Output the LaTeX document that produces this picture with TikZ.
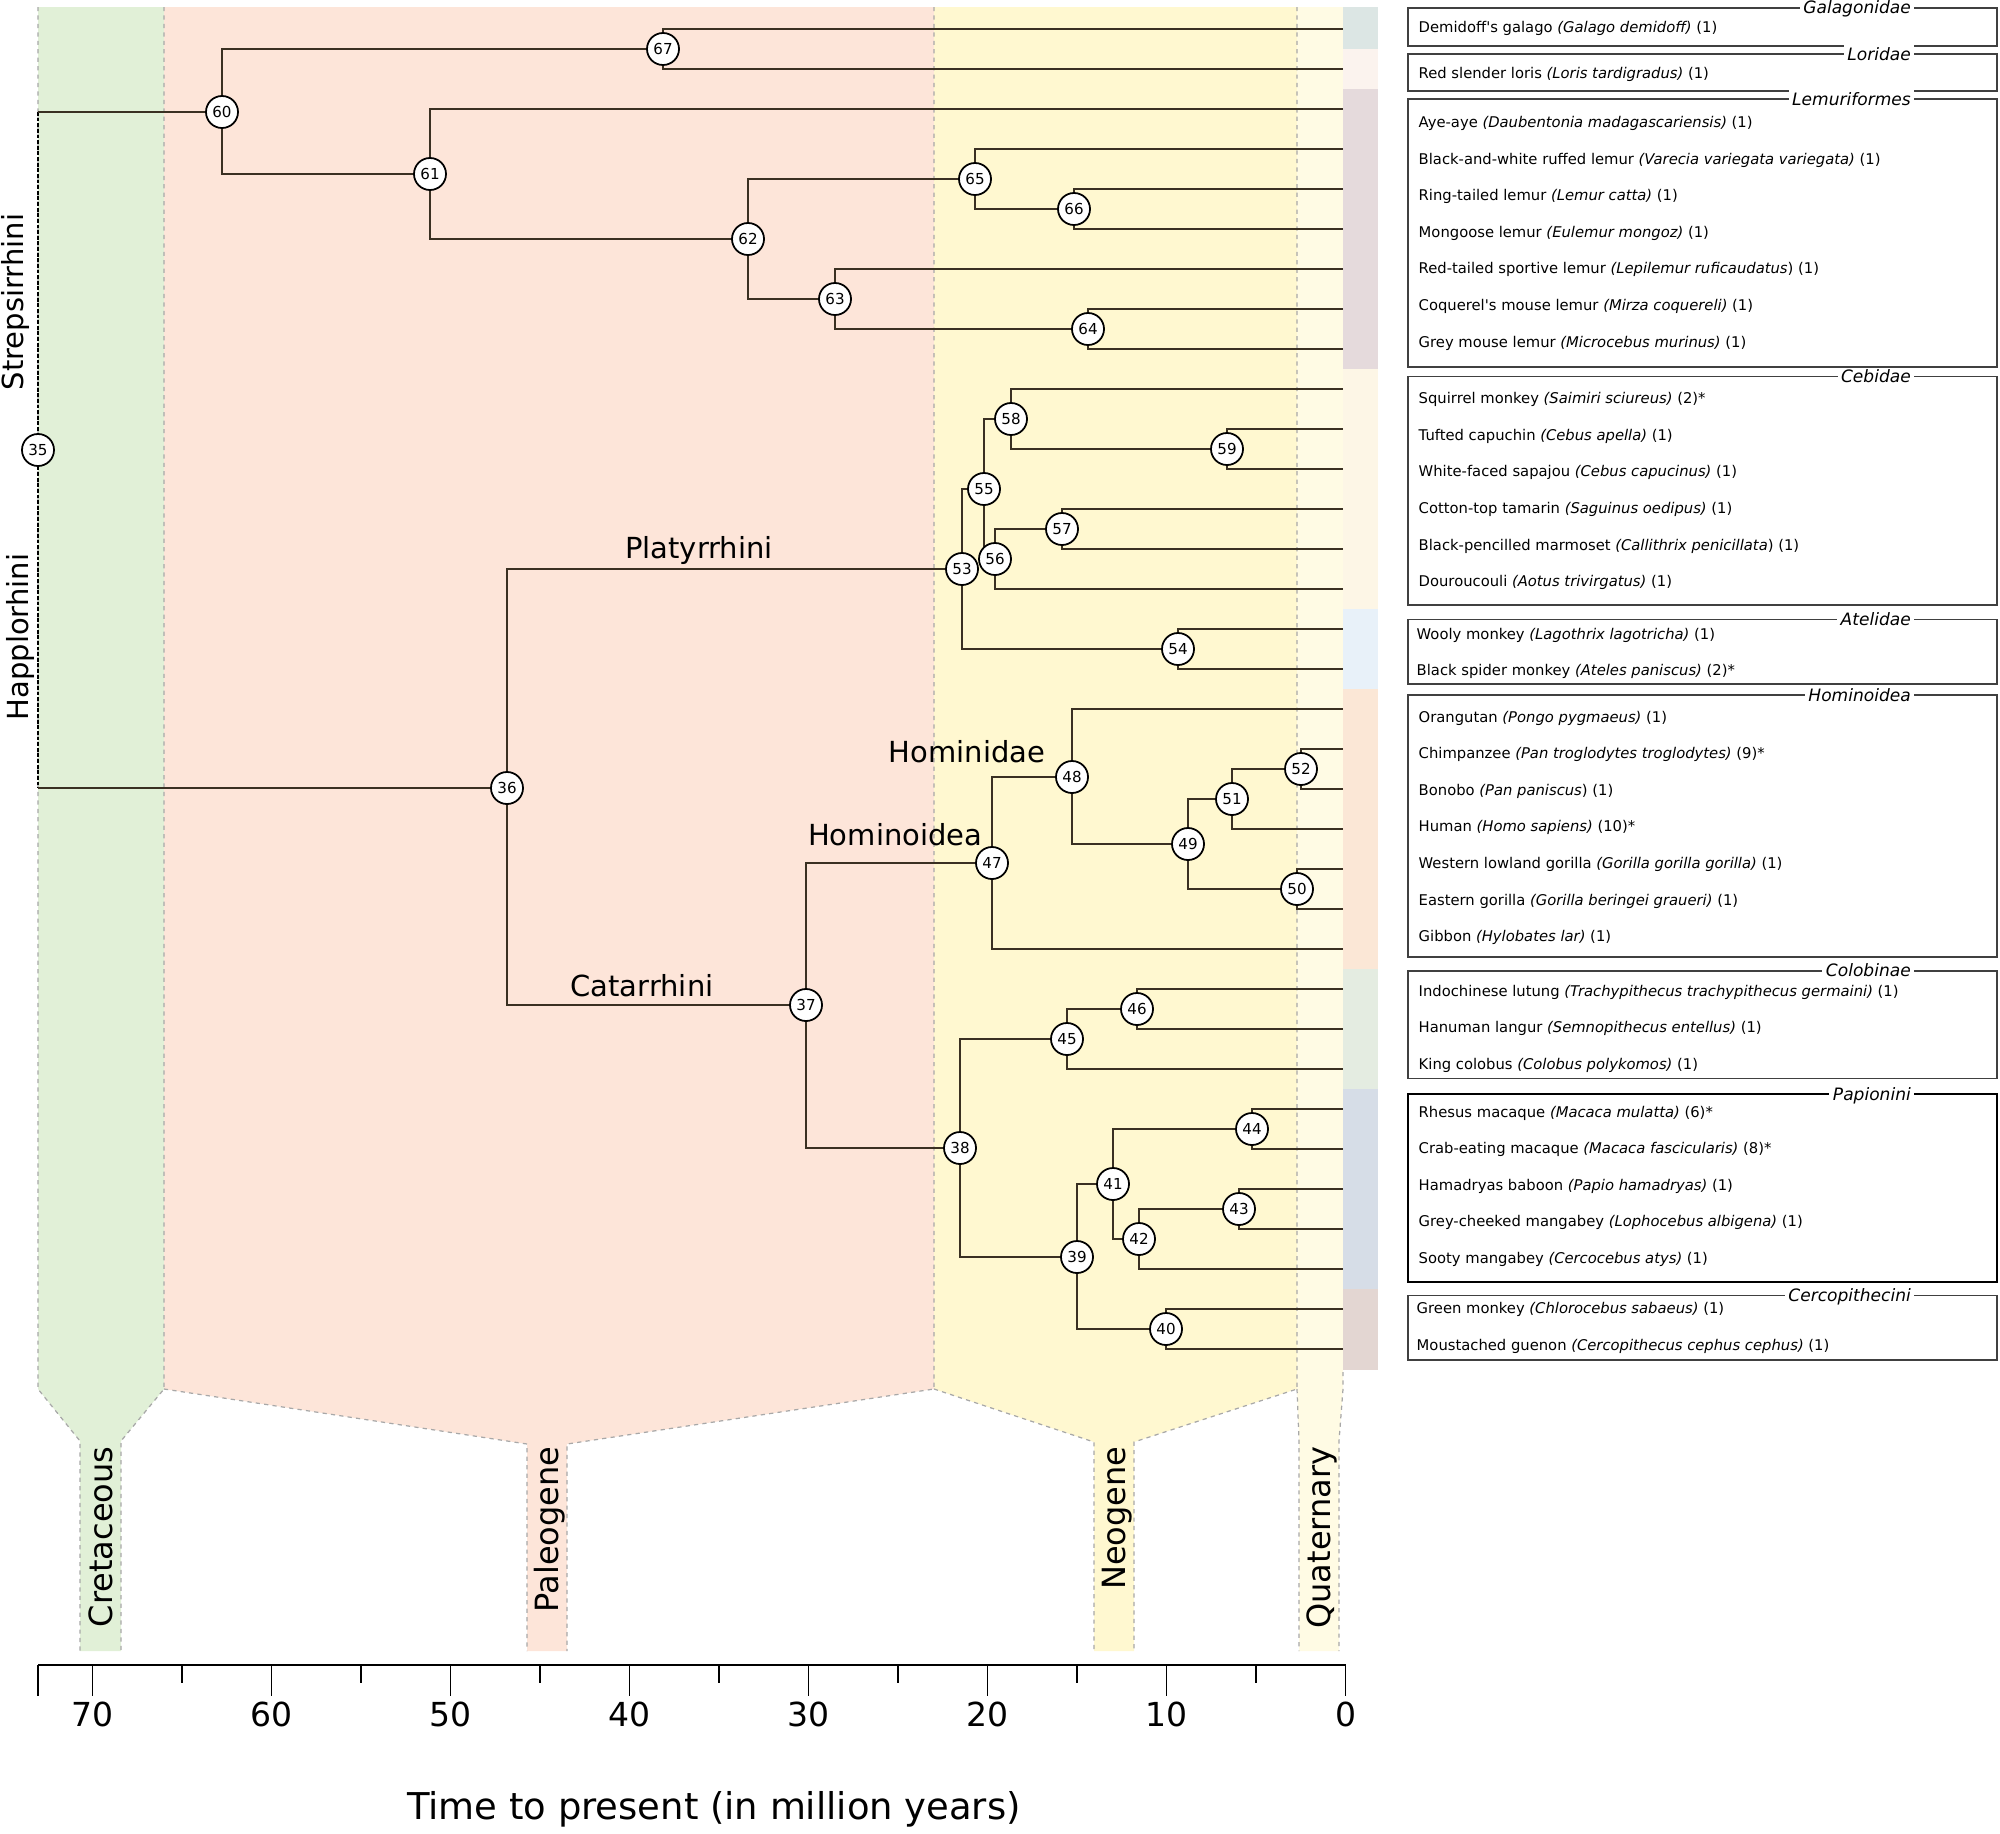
\documentclass[tikz,border=0pt]{standalone}
\usepackage{fontspec}
\setmainfont{DejaVu Sans}
\usetikzlibrary{calc}
\definecolor{cret}{HTML}{E1F0D7}
\definecolor{paleo}{HTML}{FDE5D9}
\definecolor{neo}{HTML}{FFF8D0}
\definecolor{quat}{HTML}{FFFBE4}
\definecolor{branchc}{HTML}{3A3022}
\definecolor{edgegray}{HTML}{A8A8A8}
\definecolor{sgal}{HTML}{DCE6E4}
\definecolor{slor}{HTML}{FBF3EE}
\definecolor{slem}{HTML}{E5DADC}
\definecolor{sceb}{HTML}{FDF6E6}
\definecolor{sate}{HTML}{E8F1F9}
\definecolor{shom}{HTML}{FBE7D6}
\definecolor{scol}{HTML}{E4ECE1}
\definecolor{spap}{HTML}{D6DDE7}
\definecolor{scer}{HTML}{E3D6D2}
\pgfdeclarelayer{bg}
\pgfdeclarelayer{edges}
\pgfsetlayers{bg,edges,main}
\newcommand{\spn}[1]{\textit{#1}}
\newcommand{\legrow}[3]{\node[legrow] (#1) at (1418,#2+5.4) {#3};}
\newcommand{\legframe}[4]{\draw[legbox] (1408,#2) rectangle (1997,#3);
  \node[legtitle] (#1) at (1915,#2+6) {#4};}
\begin{document}
\begin{tikzpicture}[x=0.01cm,y=-0.01cm,
  nd/.style={circle, draw=black, line width=0.5pt, fill=white, minimum size=0.32cm, inner sep=0pt, font=\fontsize{4.3}{5}\selectfont},
  branch/.style={draw=branchc, line width=0.6pt},
  rootdash/.style={draw=black, line width=0.45pt, dash pattern=on 1.1pt off 0.5pt},
  bandedge/.style={draw=edgegray, line width=0.35pt, dash pattern=on 1.2pt off 1.2pt},
  legbox/.style={draw=black!75, line width=0.45pt, fill=white},
  legtitle/.style={fill=white, inner xsep=1pt, inner ysep=0.5pt, anchor=base east, font=\itshape\fontsize{4.85}{6}\selectfont},
  legrow/.style={anchor=base west, inner sep=0pt, font=\fontsize{4.2}{5}\selectfont},
  cladelab/.style={font=\fontsize{8.25}{10}\selectfont, inner sep=0pt},
  periodlab/.style={font=\fontsize{9.1}{11}\selectfont, rotate=90, anchor=base east, inner sep=0pt},
  ticklab/.style={font=\fontsize{9.4}{11}\selectfont, inner sep=0pt},
  axisline/.style={draw=black, line width=0.6pt},
  tickline/.style={draw=black, line width=0.45pt}
]
\useasboundingbox (0,0) rectangle (2000,1833);

% ---------- background bands ----------
\begin{pgfonlayer}{bg}
\fill[cret] (38,7) -- (164,7) -- (164,1389) -- (121,1441) -- (121,1651) -- (80,1651) -- (80,1441) -- (38,1389) -- cycle;
\fill[paleo] (164,7) -- (934,7) -- (934,1389) -- (567,1444) -- (567,1651) -- (527,1651) -- (527,1444) -- (164,1389) -- cycle;
\fill[neo] (934,7) -- (1297,7) -- (1297,1389) -- (1134,1442) -- (1134,1651) -- (1094,1651) -- (1094,1442) -- (934,1389) -- cycle;
\fill[quat] (1297,7) -- (1343,7) -- (1343,1389) -- (1339,1441) -- (1339,1651) -- (1299,1651) -- (1299,1441) -- (1297,1389) -- cycle;
\draw[bandedge] (38,7) -- (38,1389) -- (80,1441) -- (80,1651);
\draw[bandedge] (164,7) -- (164,1389) -- (121,1441) -- (121,1651);
\draw[bandedge] (164,1389) -- (527,1444) -- (527,1651);
\draw[bandedge] (934,7) -- (934,1389) -- (567,1444) -- (567,1651);
\draw[bandedge] (934,1389) -- (1094,1442) -- (1094,1651);
\draw[bandedge] (1297,7) -- (1297,1389) -- (1134,1442) -- (1134,1651);
\draw[bandedge] (1297,1389) -- (1299,1441) -- (1299,1651);
\draw[bandedge] (1343,1372) -- (1343,1389) -- (1339,1441) -- (1339,1651);
% clade strips
\fill[sgal] (1343,7) rectangle (1378,49);
\fill[slor] (1343,49) rectangle (1378,89);
\fill[slem] (1343,89) rectangle (1378,369);
\fill[sceb] (1343,369) rectangle (1378,609);
\fill[sate] (1343,609) rectangle (1378,689);
\fill[shom] (1343,689) rectangle (1378,969);
\fill[scol] (1343,969) rectangle (1378,1089);
\fill[spap] (1343,1089) rectangle (1378,1289);
\fill[scer] (1343,1289) rectangle (1378,1370);
\end{pgfonlayer}

% ---------- tip coordinates ----------
\foreach \i in {0,...,33} {\coordinate (t\i) at (1343,29+40*\i);}
\coordinate (r60) at (38,112);
\coordinate (r36) at (38,788);

% ---------- nodes ----------
\node[nd] (n35) at (38,450) {35};
\node[nd] (n60) at (222,112) {60};
\node[nd] (n67) at (663,49) {67};
\node[nd] (n61) at (430,174) {61};
\node[nd] (n62) at (748,239) {62};
\node[nd] (n65) at (975,179) {65};
\node[nd] (n66) at (1074,209) {66};
\node[nd] (n63) at (835,299) {63};
\node[nd] (n64) at (1088,329) {64};
\node[nd] (n36) at (507,788) {36};
\node[nd] (n53) at (962,569) {53};
\node[nd] (n55) at (984,489) {55};
\node[nd] (n58) at (1011,419) {58};
\node[nd] (n59) at (1227,449) {59};
\node[nd] (n56) at (995,559) {56};
\node[nd] (n57) at (1062,529) {57};
\node[nd] (n54) at (1178,649) {54};
\node[nd] (n37) at (806,1005) {37};
\node[nd] (n47) at (992,863) {47};
\node[nd] (n48) at (1072,777) {48};
\node[nd] (n49) at (1188,844) {49};
\node[nd] (n51) at (1232,799) {51};
\node[nd] (n52) at (1301,769) {52};
\node[nd] (n50) at (1297,889) {50};
\node[nd] (n38) at (960,1148) {38};
\node[nd] (n45) at (1067,1039) {45};
\node[nd] (n46) at (1137,1009) {46};
\node[nd] (n39) at (1077,1257) {39};
\node[nd] (n41) at (1113,1184) {41};
\node[nd] (n44) at (1252,1129) {44};
\node[nd] (n42) at (1139,1239) {42};
\node[nd] (n43) at (1239,1209) {43};
\node[nd] (n40) at (1166,1329) {40};

% ---------- edges ----------
\begin{pgfonlayer}{edges}
\draw[rootdash] (r60) -- (n35.center) -- (r36);
\draw[branch] (r60) -- (n60.center);
\draw[branch] (r36) -- (n36.center);
\foreach \p/\c in {n60/n67,n60/n61,n67/t0,n67/t1,n61/t2,n61/n62,n62/n65,n62/n63,
  n65/t3,n65/n66,n66/t4,n66/t5,n63/t6,n63/n64,n64/t7,n64/t8,
  n36/n53,n36/n37,n53/n55,n53/n54,n55/n58,n55/n56,n58/t9,n58/n59,n59/t10,n59/t11,
  n56/n57,n56/t14,n57/t12,n57/t13,n54/t15,n54/t16,
  n37/n47,n37/n38,n47/n48,n47/t23,n48/t17,n48/n49,n49/n51,n49/n50,n51/n52,n51/t20,
  n52/t18,n52/t19,n50/t21,n50/t22,
  n38/n45,n38/n39,n45/n46,n45/t26,n46/t24,n46/t25,n39/n41,n39/n40,n41/n44,n41/n42,
  n44/t27,n44/t28,n42/n43,n42/t31,n43/t29,n43/t30,n40/t32,n40/t33}
  {\draw[branch] (\p.center) |- (\c.center);}
\end{pgfonlayer}

% ---------- clade labels ----------
\node[cladelab, anchor=base] (lPlat) at (699,558) {Platyrrhini};
\node[cladelab, anchor=base] (lCat) at (642,996) {Catarrhini};
\node[cladelab, anchor=base east] (lHoid) at (983,845) {Hominoidea};
\node[cladelab, anchor=base east] (lHdae) at (1046,762) {Hominidae};
\node[cladelab, rotate=90, anchor=base] (lStrep) at (23,302) {Strepsirrhini};
\node[cladelab, rotate=90, anchor=base] (lHap) at (28,637) {Happlorhini};

% ---------- period labels ----------
\node[periodlab] (pCret) at (112,1446) {Cretaceous};
\node[periodlab] (pPal) at (558.5,1446) {Paleogene};
\node[periodlab] (pNeo) at (1125.5,1446) {Neogene};
\node[periodlab] (pQua) at (1330.5,1446) {Quaternary};

% ---------- axis ----------
\draw[axisline] (38,1665) -- (1345.5,1665);
\draw[tickline] (38,1665) -- (38,1696);
\foreach \t in {0,10,...,70} {
  \draw[tickline] ({1345.5-17.9*\t},1665) -- ({1345.5-17.9*\t},1696);
  \node[ticklab] (ax\t) at ({1345.5-17.9*\t},1714) {\t};
}
\foreach \t in {5,15,...,65} {
  \draw[tickline] ({1345.5-17.9*\t},1665) -- ({1345.5-17.9*\t},1683);
}
\node[font=\fontsize{10.5}{12}\selectfont, inner sep=0pt] (xtitle) at (714,1809) {Time to present (in million years)};

% ---------- legend ----------
\legframe{hGal}{8}{46}{Galagonidae}
\legrow{g1}{26.7}{Demidoff\textquotesingle s galago \spn{(Galago demidoff)} (1)}
\legframe{hLor}{54}{91}{Loridae}
\legrow{g2}{72.7}{Red slender loris \spn{(Loris tardigradus)} (1)}
\legframe{hLem}{99}{367}{Lemuriformes}
\legrow{g3}{122}{Aye-aye \spn{(Daubentonia madagascariensis)} (1)}
\legrow{g4}{158.6}{Black-and-white ruffed lemur \spn{(Varecia variegata variegata)} (1)}
\legrow{g5}{195.2}{Ring-tailed lemur \spn{(Lemur catta)} (1)}
\legrow{g6}{231.8}{Mongoose lemur \spn{(Eulemur mongoz)} (1)}
\legrow{g7}{268.4}{Red-tailed sportive lemur \spn{(Lepilemur ruficaudatus})~(1)}
\legrow{g8}{305}{Coquerel\textquotesingle s mouse lemur \spn{(Mirza coquereli)} (1)}
\legrow{g9}{341.6}{Grey mouse lemur \spn{(Microcebus murinus)} (1)}
\legframe{hCeb}{376.7}{605}{Cebidae}
\legrow{g10}{398.3}{Squirrel monkey \spn{(Saimiri sciureus)} (2)*}
\legrow{g11}{434.9}{Tufted capuchin \spn{(Cebus apella)} (1)}
\legrow{g12}{471.5}{White-faced sapajou \spn{(Cebus capucinus)} (1)}
\legrow{g13}{508.1}{Cotton-top tamarin \spn{(Saguinus oedipus)} (1)}
\legrow{g14}{544.7}{Black-pencilled marmoset \spn{(Callithrix penicillata})~(1)}
\legrow{g15}{581.3}{Douroucouli \spn{(Aotus trivirgatus)} (1)}
\legframe{hAte}{619.3}{684}{Atelidae}
\node[legrow] (g16) at (1416,639.4) {Wooly monkey \spn{(Lagothrix lagotricha)} (1)};
\node[legrow] (g17) at (1416,675.4) {Black spider monkey \spn{(Ateles paniscus)} (2)*};
\legframe{hHom}{695}{956.7}{Hominoidea}
\legrow{g18}{716.7}{Orangutan \spn{(Pongo pygmaeus)} (1)}
\legrow{g19}{753.3}{Chimpanzee \spn{(Pan troglodytes troglodytes)} (9)*}
\legrow{g20}{789.9}{Bonobo \spn{(Pan paniscus})~(1)}
\legrow{g21}{826.5}{Human \spn{(Homo sapiens)} (10)*}
\legrow{g22}{863.1}{Western lowland gorilla \spn{(Gorilla gorilla gorilla)} (1)}
\legrow{g23}{899.7}{Eastern gorilla \spn{(Gorilla beringei graueri)} (1)}
\legrow{g24}{936.3}{Gibbon \spn{(Hylobates lar)} (1)}
\legframe{hCol}{970.7}{1078.3}{Colobinae}
\legrow{g25}{990.7}{Indochinese lutung \spn{(Trachypithecus trachypithecus germaini)} (1)}
\legrow{g26}{1027.3}{Hanuman langur \spn{(Semnopithecus entellus)} (1)}
\legrow{g27}{1063.9}{King colobus \spn{(Colobus polykomos)} (1)}
\draw[legbox, line width=0.6pt, draw=black] (1408,1094.3) rectangle (1997,1282.3);
\node[legtitle] (hPap) at (1915,1100.3) {Papionini};
\legrow{g28}{1111.7}{Rhesus macaque \spn{(Macaca mulatta)} (6)*}
\legrow{g29}{1148.3}{Crab-eating macaque \spn{(Macaca fascicularis)} (8)*}
\legrow{g30}{1184.9}{Hamadryas baboon \spn{(Papio hamadryas)} (1)}
\legrow{g31}{1221.5}{Grey-cheeked mangabey \spn{(Lophocebus albigena)} (1)}
\legrow{g32}{1258.1}{Sooty mangabey \spn{(Cercocebus atys)} (1)}
\legframe{hCer}{1295.3}{1360}{Cercopithecini}
\node[legrow] (g33) at (1416,1313.7) {Green monkey \spn{(Chlorocebus sabaeus)} (1)};
\node[legrow] (g34) at (1416,1350.4) {Moustached guenon \spn{(Cercopithecus cephus cephus)} (1)};
\end{tikzpicture}
\end{document}
